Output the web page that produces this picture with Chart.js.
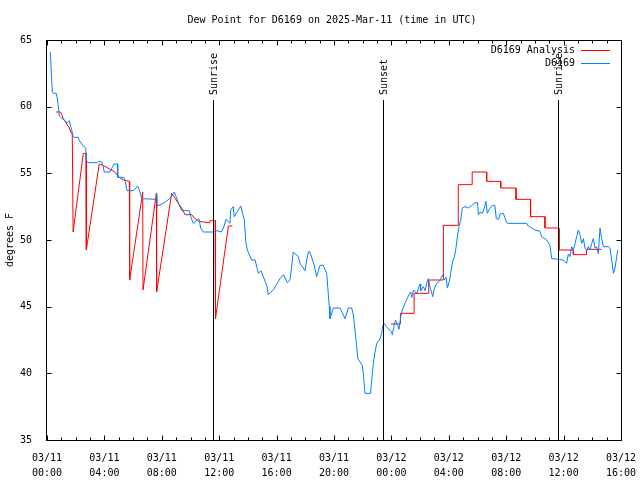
<!DOCTYPE html>
<html>
<head>
<meta charset="utf-8">
<script src="https://cdn.jsdelivr.net/npm/chart.js@4/dist/chart.umd.min.js"></script>
<style>
  html, body { margin: 0; padding: 0; background: #fff; }
  #wrap { width: 640px; height: 480px; }
</style>
</head>
<body>
<div id="wrap"><canvas id="dew" width="640" height="480"></canvas></div>
<script>
// hours since 03/11 00:00 UTC
const obsHours = [0.23,0.30,0.37,0.44,0.65,0.72,0.79,0.86,1.00,1.41,1.55,1.65,1.72,1.83,1.90,2.18,2.23,2.49,2.70,2.77,2.91,3.53,3.60,3.81,3.92,3.99,4.39,4.67,4.92,4.93,5.35,5.45,5.58,6.02,6.32,6.48,6.60,7.60,7.64,7.69,8.10,8.55,8.76,8.87,9.22,9.39,9.92,10.02,10.19,10.59,10.71,10.90,11.57,11.85,12.15,12.33,12.47,12.75,12.80,12.98,13.05,13.33,13.50,13.75,13.85,13.96,14.26,14.50,14.73,14.91,15.31,15.42,15.77,16.24,16.48,16.75,16.93,17.05,17.16,17.51,17.63,17.98,18.10,18.21,18.30,18.60,18.79,19.02,19.25,19.49,19.60,19.67,19.72,19.95,20.42,20.77,21.00,21.23,21.35,21.58,21.66,21.97,22.04,22.16,22.51,22.56,22.63,22.74,22.86,22.98,23.21,23.32,23.39,23.48,23.65,24.01,24.06,24.17,24.29,24.45,24.53,24.65,24.76,25.00,25.23,25.35,25.42,25.54,25.77,25.89,26.00,26.04,26.23,26.35,26.46,26.57,26.69,26.88,26.97,27.16,27.34,27.44,27.58,27.67,27.81,27.90,28.04,28.13,28.27,28.39,28.50,28.60,28.71,28.83,28.94,29.13,29.36,29.60,29.83,30.00,30.06,30.18,30.34,30.50,30.59,30.68,30.85,31.05,31.21,31.31,31.47,31.57,31.80,32.03,32.15,33.43,33.54,34.01,34.36,34.47,34.82,35.05,35.17,35.63,35.98,36.21,36.33,36.45,36.56,36.68,36.80,36.91,37.03,37.14,37.26,37.38,37.49,37.61,37.72,37.84,37.96,38.07,38.19,38.30,38.42,38.54,38.65,38.77,39.12,39.23,39.35,39.47,39.58,39.70,39.77];
const obsDew = [64.1,62.6,61.1,61.0,61.0,60.6,60.0,59.3,59.15,58.8,58.95,58.5,58.25,57.75,57.7,57.7,57.5,57.1,56.9,55.9,55.8,55.8,55.9,55.85,55.5,55.1,55.1,55.7,55.7,54.7,54.7,54.4,53.7,53.7,54.05,53.6,53.1,53.05,53.5,52.55,52.75,53.1,53.4,53.6,52.6,52.2,52.2,51.75,51.25,51.6,50.9,50.6,50.6,50.7,50.6,51.0,51.55,51.25,52.25,52.5,51.75,52.25,52.55,51.5,49.9,49.25,48.5,48.5,47.5,47.7,46.6,45.9,46.25,47.1,47.4,46.8,47.0,48.0,49.1,48.75,48.25,47.7,48.5,49.1,49.15,48.2,47.25,48.1,48.1,47.5,46.0,45.0,44.1,44.9,44.9,44.1,44.9,44.9,44.4,42.0,41.1,40.6,40.0,38.5,38.5,38.75,39.5,40.75,41.6,42.25,42.6,43.0,43.5,43.75,43.5,43.1,42.9,43.5,44.0,43.6,43.3,44.25,44.75,45.4,45.9,46.1,45.7,46.25,46.0,46.4,46.7,46.2,46.5,46.2,46.75,47.1,46.5,45.75,46.3,46.75,46.9,47.1,47.4,47.0,47.2,46.4,46.9,47.5,48.4,48.75,49.4,50.25,51.0,51.5,52.4,52.5,52.4,52.6,52.8,52.8,51.9,52.1,52.0,52.5,52.9,52.0,52.35,52.6,52.6,51.6,51.55,51.95,52.0,51.3,51.25,51.25,51.05,50.75,50.65,50.25,50.0,49.6,48.6,48.55,48.5,48.25,48.95,48.75,49.5,49.25,49.75,50.25,50.75,50.4,49.75,50.1,49.4,49.25,49.5,49.25,49.75,50.1,49.4,49.5,49.0,50.9,50.1,49.5,49.5,49.4,48.5,47.5,47.9,48.75,49.25];

const anaHours = [0.63,0.95,1.14,1.56,1.65,1.76,1.80,1.82,2.53,2.72,2.74,3.64,3.88,4.16,4.73,4.97,5.32,5.74,5.76,6.67,6.69,7.62,7.64,8.69,9.38,9.62,10.08,10.31,10.55,11.30,11.35,11.72,11.74,12.64,12.92,18.00,23.97,24.63,24.63,25.58,25.58,26.60,26.60,27.62,27.62,28.66,28.66,29.63,29.63,30.64,30.64,31.62,31.62,32.68,32.68,33.70,33.70,34.70,34.70,35.68,35.68,36.68,36.68,37.60,37.60,38.65];
const anaDew = [59.6,59.6,59.1,58.4,58.1,57.9,57.9,50.6,56.5,56.5,49.25,55.7,55.6,55.45,55.1,54.75,54.5,54.4,47.0,53.6,46.25,53.5,46.1,53.5,52.4,51.9,51.9,51.6,51.4,51.3,51.45,51.45,44.1,51.05,51.05,null,43.7,43.7,44.5,44.5,46.0,46.0,47.0,47.0,51.1,51.1,54.15,54.15,55.1,55.1,54.4,54.4,53.9,53.9,53.05,53.05,51.75,51.75,50.9,50.9,49.25,49.25,48.9,48.9,49.3,49.3];

const sunLabels = ['Sunrise', 'Sunset', 'Sunrise'];
const sunHours = [11.59, 23.39, 35.63];

const xTickHours = [0, 4, 8, 12, 16, 20, 24, 28, 32, 36, 40];
const yTicks = [35, 40, 45, 50, 55, 60, 65];

const FONT = '"DejaVu Sans Mono", monospace';

function tickLabel(h) {
    const day = h < 24 ? '03/11' : '03/12';
    const hh = String(h % 24).padStart(2, '0');
    return [day, hh + ':00'];
}

const decorations = {
    id: 'decorations',
    afterDraw(chart) {
        const ctx = chart.ctx;
        const xs = chart.scales.x, ys = chart.scales.y;
        const a = chart.chartArea;
        const L = Math.round(a.left) - 0.5, R = Math.round(a.right) + 0.5;
        const T = Math.round(a.top) + 0.5, B = Math.round(a.bottom) + 0.5;
        ctx.save();
        ctx.strokeStyle = '#000';
        ctx.lineWidth = 1;

        // sunrise / sunset markers
        ctx.font = '10px ' + FONT;
        ctx.fillStyle = '#000';
        sunHours.forEach((h, i) => {
            const px = Math.round(xs.getPixelForValue(h)) + 0.5;
            const top = ys.getPixelForValue(60.5);
            ctx.beginPath();
            ctx.moveTo(px, top);
            ctx.lineTo(px, B);
            ctx.stroke();
            ctx.save();
            ctx.translate(px + 0.5, top - 5);
            ctx.rotate(-Math.PI / 2);
            ctx.textAlign = 'left';
            ctx.textBaseline = 'middle';
            ctx.fillText(sunLabels[i], 0, 0);
            ctx.restore();
        });

        // frame
        ctx.strokeRect(L, T, R - L, B - T);

        // inward ticks, mirrored
        ctx.beginPath();
        for (let h = 0; h <= 40; h++) {
            const px = Math.round(xs.getPixelForValue(h)) + 0.5;
            const len = xTickHours.includes(h) ? 5 : 3;
            ctx.moveTo(px, B); ctx.lineTo(px, B - len);
            ctx.moveTo(px, T); ctx.lineTo(px, T + len);
        }
        yTicks.forEach(v => {
            const py = Math.round(ys.getPixelForValue(v)) + 0.5;
            ctx.moveTo(L, py); ctx.lineTo(L + 5, py);
            ctx.moveTo(R, py); ctx.lineTo(R - 5, py);
        });
        ctx.stroke();

        // title
        ctx.font = '10px ' + FONT;
        ctx.textAlign = 'center';
        ctx.textBaseline = 'middle';
        ctx.fillText('Dew Point for D6169 on 2025-Mar-11 (time in UTC)', 332, 20);

        // legend
        const entries = [['D6169 Analysis', '#ff0000'], ['D6169', '#0080ff']];
        entries.forEach((e, i) => {
            const y = 50 + i * 13;
            ctx.fillStyle = '#000';
            ctx.textAlign = 'right';
            ctx.fillText(e[0], 575, y);
            ctx.strokeStyle = e[1];
            ctx.beginPath();
            ctx.moveTo(581, y + 0.5);
            ctx.lineTo(610, y + 0.5);
            ctx.stroke();
        });
        ctx.restore();
    }
};

new Chart(document.getElementById('dew').getContext('2d'), {
    type: 'line',
    data: {
        datasets: [
            {
                label: 'D6169',
                data: obsHours.map((h, i) => ({x: h, y: obsDew[i]})),
                borderColor: '#0080ff',
                borderWidth: 1,
                pointRadius: 0,
                tension: 0,
                fill: false
            },
            {
                label: 'D6169 Analysis',
                data: anaHours.map((h, i) => ({x: h, y: anaDew[i]})),
                borderColor: '#ff0000',
                borderWidth: 1,
                pointRadius: 0,
                tension: 0,
                spanGaps: false,
                fill: false
            }
        ]
    },
    options: {
        responsive: false,
        animation: false,
        devicePixelRatio: 1,
        layout: {padding: {top: 40, right: 19, left: 0, bottom: 0}},
        plugins: {legend: {display: false}, title: {display: false}, tooltip: {enabled: false}},
        scales: {
            x: {
                type: 'linear',
                min: 0, max: 40,
                grid: {display: false},
                border: {display: false},
                afterFit: s => { s.height = 40; s.paddingLeft = 0; s.paddingRight = 0; },
                afterBuildTicks: s => { s.ticks = xTickHours.map(v => ({value: v})); },
                ticks: {
                    autoSkip: false,
                    maxRotation: 0,
                    padding: 3,
                    color: '#000',
                    font: {family: FONT, size: 10, lineHeight: 1.5},
                    callback: v => tickLabel(v)
                }
            },
            y: {
                min: 35, max: 65,
                grid: {display: false},
                border: {display: false},
                afterFit: s => { s.width = 47; s.paddingTop = 0; s.paddingBottom = 0; },
                afterBuildTicks: s => { s.ticks = yTicks.map(v => ({value: v})); },
                ticks: {
                    padding: 7,
                    color: '#000',
                    font: {family: FONT, size: 10}
                },
                title: {
                    display: true,
                    text: 'degrees F',
                    color: '#000',
                    font: {family: FONT, size: 10},
                    padding: {top: 4, bottom: 4}
                }
            }
        }
    },
    plugins: [decorations]
});
</script>
</body>
</html>
